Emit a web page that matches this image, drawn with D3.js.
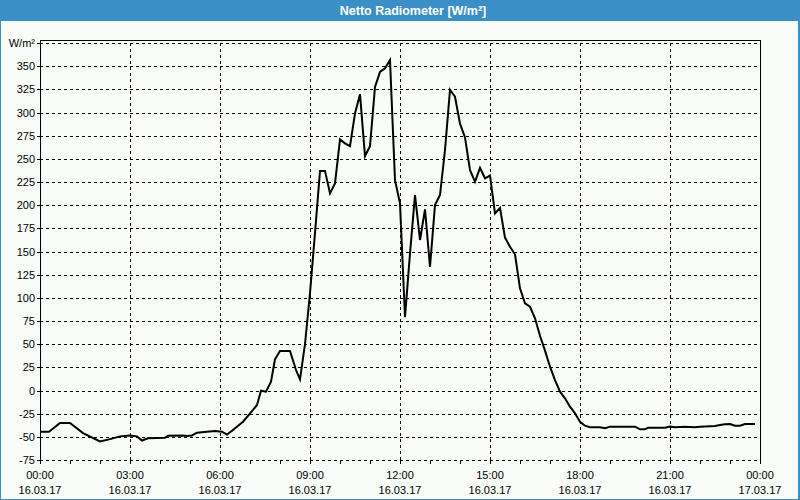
<!DOCTYPE html>
<html>
<head>
<meta charset="utf-8">
<script src="https://cdn.jsdelivr.net/npm/d3@7"></script>
<style>
html,body{margin:0;padding:0;background:#f9fcf9;}
svg{display:block;}
text{font-family:"Liberation Sans",Arial,sans-serif;font-size:11px;fill:#000;}
</style>
</head>
<body>
<svg id="chart" width="800" height="500"></svg>
<script>
// ---- data (16.03.17) ----
const times = ["00:00","00:18","00:40","01:00","01:26","02:00","02:20","02:40","03:00","03:14","03:24","03:36","04:10","04:16","04:44","04:54","05:04","05:14","05:34","05:50","06:04","06:14","06:24","06:46","07:06","07:14","07:22","07:32","07:42","07:50","08:00","08:20","08:32","08:40","08:50","09:00","09:10","09:20","09:30","09:40","09:50","10:00","10:10","10:20","10:30","10:40","10:50","11:00","11:10","11:20","11:30","11:40","11:50","12:00","12:10","12:20","12:30","12:40","12:50","13:00","13:10","13:20","13:30","13:40","13:50","14:00","14:10","14:20","14:30","14:40","14:50","15:00","15:10","15:20","15:30","15:40","15:50","16:00","16:10","16:20","16:30","16:40","16:50","17:00","17:10","17:20","17:30","17:40","17:50","18:00","18:10","18:20","18:40","18:50","19:00","19:50","20:00","20:10","20:16","20:50","21:00","21:10","21:30","21:50","22:00","22:30","22:40","22:50","23:00","23:10","23:20","23:30","23:50"];
const values = [-44.5,-44.5,-35,-35,-46,-55,-52.5,-49.5,-48.5,-49.5,-54,-51.5,-51,-48.7,-48.5,-49,-48.5,-45.5,-44.4,-43.7,-44.4,-47.5,-43.4,-33.7,-21,-15.6,-0.2,-1.3,9.5,33.7,42.6,42.6,22.1,12,50,105,170,237,237,212.7,223.5,271,266.7,263.7,299,319.8,253,263.7,327.7,343.9,347.6,356.5,227,201.9,79,148,210.9,162.4,195.5,133.5,200.1,210.9,259.4,324.5,317,288,273,237.9,225.2,240.3,229,232,191.1,197,165,155.1,147,110.2,94.1,90.4,77.9,59,43,25.7,11.3,-1.3,-8.4,-17.5,-24.6,-33.7,-38,-39.7,-39.7,-40.8,-39,-39,-41.9,-41.9,-40.3,-40.3,-39,-39.7,-39,-39.7,-39,-38.3,-37.2,-36.5,-36.1,-38,-38,-36.1,-36.1];

const title = "Netto Radiometer [W/m²]";
const unitLabel = "W/m²";
const yTicks = [-75,-50,-25,0,25,50,75,100,125,150,175,200,225,250,275,300,325,350,375];
const xTickHours = [0,3,6,9,12,15,18,21,24];
const xTickTimes = ["00:00","03:00","06:00","09:00","12:00","15:00","18:00","21:00","00:00"];
const xTickDates = ["16.03.17","16.03.17","16.03.17","16.03.17","16.03.17","16.03.17","16.03.17","16.03.17","17.03.17"];

// ---- layout ----
const W = 800, H = 500;
const L = 40, R = 760, T = 40, B = 460;
const svg = d3.select("#chart");

const toMin = s => { const [h,m] = s.split(":").map(Number); return h*60+m; };
const data = times.map((t,i) => ({m: toMin(t), v: values[i]}));

const x = d3.scaleLinear().domain([0, 1440]).range([L, R]);
const y = d3.scaleLinear().domain([-75, 375]).range([B, 43]);

// background
svg.append("rect").attr("width", W).attr("height", H).attr("fill", "#f9fcf9");
// title bar
svg.append("rect").attr("x",0).attr("y",0).attr("width",W).attr("height",21).attr("fill","#3b8fc7");
svg.append("text").attr("x", 413).attr("y", 14.5).attr("text-anchor","middle")
  .style("font-weight","bold").style("font-size","12.5px").style("fill","#ffffff").text(title);
// outer blue frame
svg.append("rect").attr("x",0).attr("y",21).attr("width",1).attr("height",H-21).attr("fill","#3b8fc7");
svg.append("rect").attr("x",798).attr("y",21).attr("width",2).attr("height",H-21).attr("fill","#3b8fc7");
svg.append("rect").attr("x",0).attr("y",499).attr("width",W).attr("height",1).attr("fill","#3b8fc7");

// horizontal grid (dashed) via axis
const yGrid = svg.append("g").attr("transform",`translate(${L},0)`)
  .call(d3.axisLeft(y).tickValues(yTicks).tickSize(-(R-L)).tickFormat(""));
yGrid.select(".domain").remove();
yGrid.selectAll(".tick line").attr("stroke","#000").attr("stroke-dasharray","3,3")
  .attr("shape-rendering","crispEdges");

// vertical grid (dashed)
const xGrid = svg.append("g").attr("transform",`translate(0,${B})`)
  .call(d3.axisBottom(x).tickValues(xTickHours.slice(1,-1).map(h=>h*60)).tickSize(-(B-T)).tickFormat(""));
xGrid.select(".domain").remove();
xGrid.selectAll(".tick line").attr("stroke","#000").attr("stroke-dasharray","3,3")
  .attr("shape-rendering","crispEdges");

// y axis ticks + labels
const yAxis = svg.append("g").attr("transform",`translate(${L},0)`)
  .call(d3.axisLeft(y).tickValues(yTicks).tickSize(3).tickPadding(2)
    .tickFormat(d => d === 375 ? unitLabel : String(d)));
yAxis.select(".domain").remove();
yAxis.selectAll(".tick line").attr("stroke","#000").attr("shape-rendering","crispEdges");
yAxis.selectAll("text").style("font-family","'Liberation Sans',Arial,sans-serif").style("font-size","11px").attr("fill","#000");

// x axis hourly ticks
const hours = d3.range(0, 25);
const xAxis = svg.append("g").attr("transform",`translate(0,${B})`)
  .call(d3.axisBottom(x).tickValues(hours.map(h=>h*60)).tickSize(4).tickFormat(""));
xAxis.select(".domain").remove();
xAxis.selectAll(".tick line").attr("stroke","#000").attr("shape-rendering","crispEdges");

// x labels (two lines)
const xl = svg.append("g");
xTickHours.forEach((h,i) => {
  const t = xl.append("text").attr("x", x(h*60)).attr("text-anchor","middle");
  t.append("tspan").attr("x", x(h*60)).attr("y", 479).text(xTickTimes[i]);
  t.append("tspan").attr("x", x(h*60)).attr("y", 494).text(xTickDates[i]);
});

// plot frame: left, top, right solid
const frame = svg.append("g").attr("stroke","#000").attr("shape-rendering","crispEdges");
frame.append("line").attr("x1",L+0.5).attr("x2",L+0.5).attr("y1",T).attr("y2",B+1);
frame.append("line").attr("x1",L).attr("x2",R+1).attr("y1",T+0.5).attr("y2",T+0.5);
frame.append("line").attr("x1",R+0.5).attr("x2",R+0.5).attr("y1",T).attr("y2",B+1);

// data line
const line = d3.line().x(d => x(d.m)).y(d => y(d.v));
svg.append("path").datum(data).attr("d", line)
  .attr("fill","none").attr("stroke","#000").attr("stroke-width",2)
  .attr("stroke-linejoin","miter");
</script>
</body>
</html>
